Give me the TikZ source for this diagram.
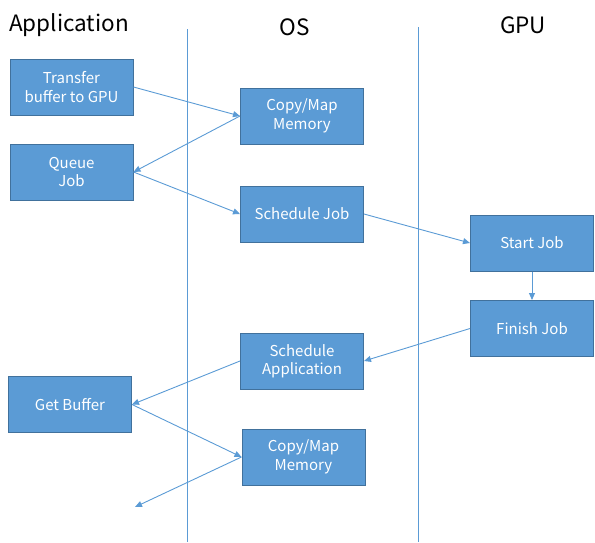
\documentclass[tikz,border=0pt]{standalone}
\usepackage{fontspec}
\setmainfont{Noto Sans CJK JP}
\usetikzlibrary{arrows.meta}
\definecolor{boxfill}{HTML}{5B9BD5}
\definecolor{boxline}{HTML}{41719C}
\definecolor{conn}{HTML}{5B9BD5}
\begin{document}
\begin{tikzpicture}[x=1pt,y=-1pt,
  stepbox/.style={draw=boxline,line width=1pt,fill=boxfill,text=white,minimum width=123pt,minimum height=56pt,inner sep=0pt,align=center,font=\fontsize{15}{18.5}\selectfont},
  header/.style={font=\fontsize{22.5}{26}\selectfont,text=black,inner sep=0pt},
  lane/.style={draw=conn,line width=1pt},
  flow/.style={draw=conn,line width=0.9pt,-{Triangle[length=7pt,width=6pt]}}]
\useasboundingbox (0,0) rectangle (595,542);
\node[header,anchor=west] (happ) at (9,25) {Application};
\node[header] (hos) at (295,27) {OS};
\node[header] (hgpu) at (523,25) {GPU};
\coordinate (l1t) at (187,29); \coordinate (l1b) at (187,542);
\coordinate (l2t) at (418,27); \coordinate (l2b) at (418,542);
\draw[lane] (l1t) -- (l1b);
\draw[lane] (l2t) -- (l2b);
\node[stepbox] (transfer) at (71.5,87) {Transfer\\buffer to GPU};
\node[stepbox] (queue) at (71.5,172) {Queue\\Job};
\node[stepbox] (copy1) at (302,116) {Copy/Map\\Memory};
\node[stepbox] (sched) at (302,214) {Schedule Job};
\node[stepbox] (start) at (532,243) {Start Job};
\node[stepbox] (finish) at (532,328.5) {Finish Job};
\node[stepbox] (schedapp) at (302,361) {Schedule\\Application};
\node[stepbox] (getbuf) at (70,404.5) {Get Buffer};
\node[stepbox] (copy2) at (303.5,457) {Copy/Map\\Memory};
\coordinate (free) at (135,507);
\draw[flow] (transfer.east) -- (copy1.west);
\draw[flow] (copy1.west) -- (queue.east);
\draw[flow] (queue.east) -- (sched.west);
\draw[flow] (sched.east) -- (start.west);
\draw[flow] (start.south) -- (finish.north);
\draw[flow] (finish.west) -- (schedapp.east);
\draw[flow] (schedapp.west) -- (getbuf.east);
\draw[flow] (getbuf.east) -- (copy2.west);
\draw[flow] (copy2.west) -- (free);
\end{tikzpicture}
\end{document}
